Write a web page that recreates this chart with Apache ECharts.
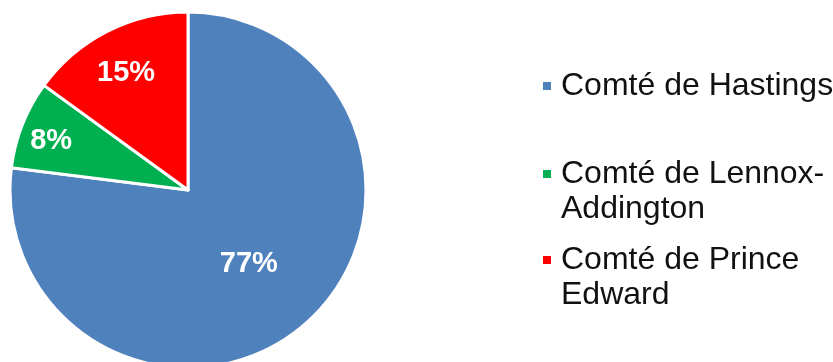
<!DOCTYPE html>
<html>
<head>
<meta charset="utf-8">
<script src="https://cdn.jsdelivr.net/npm/echarts@6/dist/echarts.min.js"></script>
<style>
  html, body { margin: 0; padding: 0; background: #fff; }
  #chart { width: 833px; height: 362px; }
</style>
</head>
<body>
<div id="chart"></div>
<script>
// Share of the total by county
const categories = ['Comté de Hastings', 'Comté de Lennox-Addington', 'Comté de Prince Edward'];
const values = [77, 8, 15];
const legendLines = [['Comté de Hastings'], ['Comté de Lennox-', 'Addington'], ['Comté de Prince', 'Edward']];
const colors = ['#4F81BD', '#00B050', '#FF0000'];

// how far out (as a fraction of the radius) each value label sits
const labelRadius = [0.5, 0.81, 0.75];
// top of each legend entry, px
const legendTops = [70, 158, 244];

const R = 178;
const total = values.reduce((a, b) => a + b, 0);

let acc = 0;
const data = categories.map((name, i) => {
  const mid = 90 - (acc + values[i] / 2) / total * 360;
  acc += values[i];
  const rad = mid * Math.PI / 180;
  const shift = (labelRadius[i] - 0.5) * R;
  return {
    name,
    value: values[i],
    itemStyle: { color: colors[i] },
    label: { offset: [shift * Math.cos(rad), -shift * Math.sin(rad) + 5] }
  };
});

const rich = {
  t: { fontSize: 32, lineHeight: 35, color: '#111', fontFamily: 'Liberation Sans, Arial, sans-serif' },
  gap: { width: 10 },
  ind: { width: 18 }
};
colors.forEach((c, i) => {
  rich['m' + i] = { width: 8, height: 8, backgroundColor: c };
});

const legends = categories.map((name, i) => ({
  orient: 'vertical',
  left: 537,
  top: legendTops[i],
  padding: 0,
  itemWidth: 0,
  itemHeight: 0,
  icon: 'rect',
  selectedMode: false,
  data: [name],
  formatter: n => legendLines[i].map((line, k) =>
    (k === 0 ? '{m' + i + '|}{gap|}' : '{ind|}') + '{t|' + line + '}'
  ).join('\n'),
  textStyle: { rich }
}));

const chart = echarts.init(document.getElementById('chart'), null, { renderer: 'canvas' });
chart.setOption({
  animation: false,
  backgroundColor: '#fff',
  legend: legends,
  series: [{
    type: 'pie',
    center: [188, 190],
    radius: R,
    startAngle: 90,
    clockwise: true,
    data,
    itemStyle: { borderColor: '#fff', borderWidth: 3 },
    label: {
      position: 'inside',
      formatter: '{d}%',
      color: '#fff',
      fontSize: 29,
      fontWeight: 'bold',
      fontFamily: 'Liberation Sans, Arial, sans-serif'
    },
    labelLine: { show: false },
    emphasis: { disabled: true }
  }]
});
</script>
</body>
</html>
